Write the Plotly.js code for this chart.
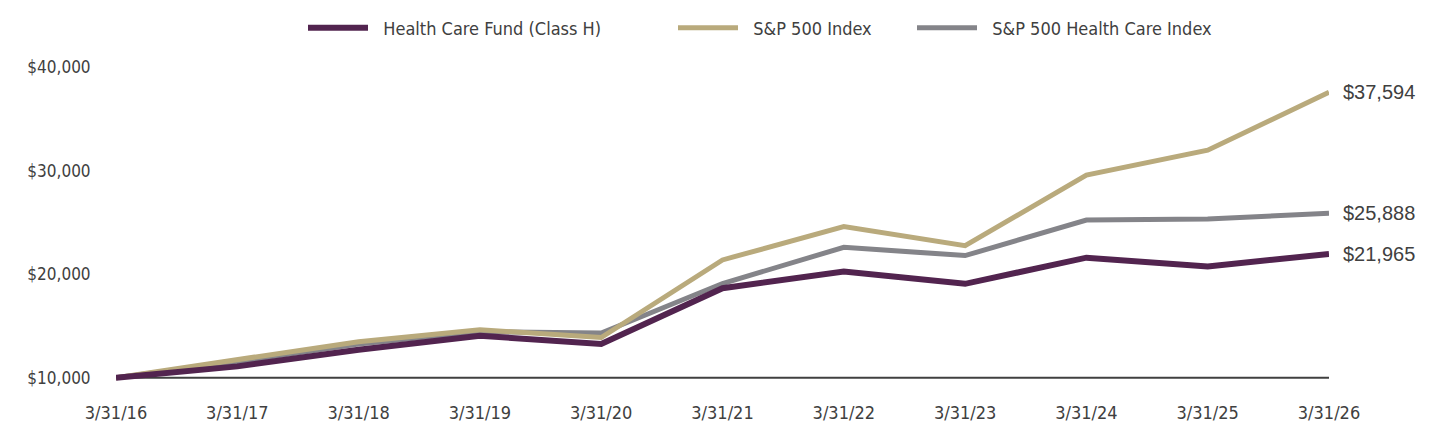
<!DOCTYPE html>
<html>
<head>
<meta charset="utf-8">
<script src="https://cdn.plot.ly/plotly-3.0.1.min.js"></script>
<style>
  html, body { margin: 0; padding: 0; background: #ffffff; }
  #chart { width: 1440px; height: 444px; }
</style>
</head>
<body>
<div id="chart"></div>
<script>
// Growth of a $10,000 investment, fiscal year-ends
const periods = ['3/31/16', '3/31/17', '3/31/18', '3/31/19', '3/31/20', '3/31/21',
                 '3/31/22', '3/31/23', '3/31/24', '3/31/25', '3/31/26'];

const fundName = 'Health Care Fund (Class H)';
const fundValues = [10000, 11090, 12700, 14050, 13250, 18650, 20250, 19070, 21600, 20740, 21965];

const spxName = 'S&P 500 Index';
const spxValues = [10000, 11800, 13480, 14630, 13880, 21380, 24600, 22760, 29580, 31990, 37594];

const hcName = 'S&P 500 Health Care Index';
const hcValues = [10000, 11550, 13250, 14450, 14310, 19100, 22600, 21800, 25240, 25340, 25888];

const yTicks = [10000, 20000, 30000, 40000];
const yTickText = ['$10,000', '$20,000', '$30,000', '$40,000'];

const COLORS = { fund: '#52244F', spx: '#B9AA7C', hc: '#848489' };
const TEXT = '#404040';
const NARROW = '"Liberation Sans Narrow", "Arial Narrow", "DejaVu Sans Condensed", sans-serif';
const REGULAR = '"Liberation Sans", Arial, sans-serif';

const fmt = v => '$' + v.toLocaleString('en-US');
// a little extra room between each legend swatch and its label
const pad = s => '\u00a0\u00a0' + s;

// Drawn bottom-to-top: health care index, S&P 500, then the fund on top
const traces = [
  { x: periods, y: hcValues, name: pad(hcName), mode: 'lines', legend: 'legend3',
    line: { color: COLORS.hc, width: 5 }, hoverinfo: 'skip' },
  { x: periods, y: spxValues, name: pad(spxName), mode: 'lines', legend: 'legend2',
    line: { color: COLORS.spx, width: 5 }, hoverinfo: 'skip' },
  { x: periods, y: fundValues, name: pad(fundName), mode: 'lines', legend: 'legend',
    line: { color: COLORS.fund, width: 6 }, hoverinfo: 'skip' }
];

// Ending values written next to the last point of each line
const endValues = [spxValues, hcValues, fundValues].map(s => s[s.length - 1]);
const annotations = endValues.map(v => ({
  x: periods[periods.length - 1], y: v, xref: 'x', yref: 'y',
  text: fmt(v), showarrow: false, xanchor: 'left', yanchor: 'middle',
  xshift: 12, font: { family: REGULAR, size: 20, color: TEXT }
}));

const legendBase = {
  orientation: 'h', xref: 'container', yref: 'container',
  yanchor: 'middle', xanchor: 'left', y: 1 - 28 / 444,
  font: { family: NARROW, size: 18, color: TEXT },
  bgcolor: 'rgba(0,0,0,0)', itemwidth: 60, itemclick: false, itemdoubleclick: false
};

const layout = {
  width: 1440, height: 444,
  paper_bgcolor: '#ffffff', plot_bgcolor: '#ffffff',
  margin: { l: 116, r: 111, t: 56.6, b: 55.6, pad: 0 },
  showlegend: true,
  legend:  Object.assign({}, legendBase, { x: 303 / 1440 }),
  legend2: Object.assign({}, legendBase, { x: 673 / 1440 }),
  legend3: Object.assign({}, legendBase, { x: 912 / 1440 }),
  xaxis: {
    type: 'category', range: [0, periods.length - 1],
    showgrid: false, zeroline: false, showline: false,
    ticks: 'outside', ticklen: 0, ticklabelstandoff: 8,
    tickfont: { family: NARROW, size: 18, color: TEXT }
  },
  yaxis: {
    range: [9000, 41000], tickvals: yTicks, ticktext: yTickText,
    showgrid: false, zeroline: false, showline: false,
    ticks: 'outside', ticklen: 0, ticklabelstandoff: 21,
    tickfont: { family: NARROW, size: 17, color: TEXT }
  },
  shapes: [{
    type: 'line', xref: 'paper', yref: 'y', x0: 0, x1: 1, y0: 10000, y1: 10000,
    line: { color: TEXT, width: 2 }, layer: 'below'
  }],
  annotations: annotations
};

Plotly.newPlot('chart', traces, layout, { staticPlot: true, displayModeBar: false });
</script>
</body>
</html>
